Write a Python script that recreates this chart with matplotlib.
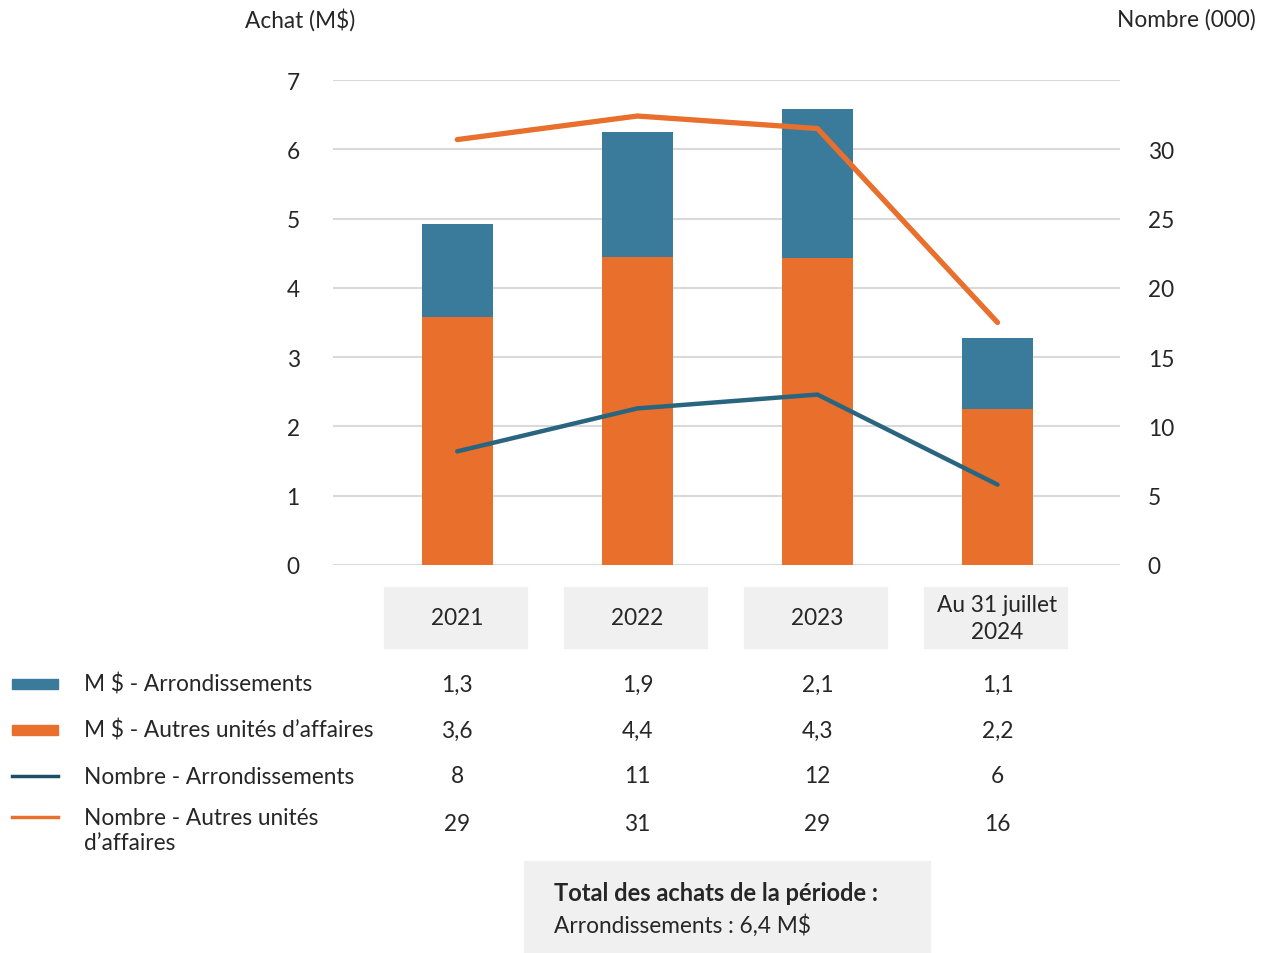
import matplotlib.pyplot as plt
import matplotlib.transforms as mtransforms
from matplotlib.patches import Rectangle
from matplotlib.lines import Line2D

plt.rcParams['font.family'] = ['Lato', 'DejaVu Sans']

# data
periods = ['2021', '2022', '2023', 'Au 31 juillet\n2024']
achat_arr = [1.34, 1.81, 2.15, 1.03]       # M$ - Arrondissements
achat_autres = [3.58, 4.44, 4.43, 2.25]    # M$ - Autres unités d'affaires
nb_arr = [8.2, 11.3, 12.3, 5.8]            # nombre (000)
nb_autres = [30.7, 32.4, 31.5, 17.5]

# values printed in the table
tab_arr = ['1,3', '1,9', '2,1', '1,1']
tab_autres = ['3,6', '4,4', '4,3', '2,2']
tab_nb_arr = ['8', '11', '12', '6']
tab_nb_autres = ['29', '31', '29', '16']

BLUE = '#3a7a9a'
ORANGE = '#e86f2c'
LINE_BLUE = '#2a6580'
LEG_BLUE = '#1e4f66'
GRID = '#d9d9d9'
TXT = '#262626'
BOX = '#f0f0f0'
FS = 16.3

W, H = 1268, 954
fig = plt.figure(figsize=(W / 100, H / 100), dpi=100)
ax = fig.add_axes([333 / W, 1 - 566 / H, (1120 - 333) / W, (566 - 81) / H])
ax2 = ax.twinx()

x = list(range(len(periods)))
ax.bar(x, achat_autres, width=0.395, color=ORANGE, zorder=2)
ax.bar(x, achat_arr, width=0.395, bottom=achat_autres, color=BLUE, zorder=2)

ax2.plot(x, nb_autres, color=ORANGE, lw=3.8, solid_capstyle='round')
ax2.plot(x, nb_arr, color=LINE_BLUE, lw=3.2, solid_capstyle='round')

ax.set_xlim(-0.69, 3.68)
ax.set_ylim(0, 7)
ax2.set_ylim(0, 35)
ax.set_yticks(range(0, 8))
ax2.set_yticks(range(0, 35, 5))
ax.yaxis.grid(True, color=GRID, lw=1.5, zorder=0)
ax.set_axisbelow(True)
ax.set_xticks([])
for a in (ax, ax2):
    for s in a.spines.values():
        s.set_visible(False)
    a.tick_params(length=0, labelsize=FS, labelcolor=TXT)
ax.tick_params(axis='y', pad=24)
ax2.tick_params(axis='y', pad=20)

fig.text(245 / W, 1 - 20 / H, 'Achat (M$)', fontsize=FS, color=TXT, va='center')
fig.text(1256 / W, 1 - 20 / H, 'Nombre (000)', fontsize=FS, color=TXT, va='center', ha='right')

# table below the chart: x in data units, y in figure pixels
tr = mtransforms.blended_transform_factory(ax.transData, fig.dpi_scale_trans)


def fy(py):
    return (H - py) / 100


bw = 143 / 180
for i, p in enumerate(periods):
    fig.patches.append(Rectangle((i - bw / 2 - 0.01, fy(649)), bw, 61 / 100,
                                 transform=tr, color=BOX, zorder=0))
    fig.text(i, fy(619), p, transform=tr, ha='center', va='center',
             fontsize=FS, color=TXT, linespacing=1.3)

rows = [
    ('M $ - Arrondissements', tab_arr, 685, 'bar', BLUE),
    ('M $ - Autres unités d’affaires', tab_autres, 731, 'bar', ORANGE),
    ('Nombre - Arrondissements', tab_nb_arr, 777, 'line', LEG_BLUE),
    ('Nombre - Autres unités\nd’affaires', tab_nb_autres, 825, 'line', ORANGE),
]
for label, vals, py, kind, col in rows:
    if kind == 'bar':
        fig.patches.append(Rectangle((12 / W, 1 - (py + 5) / H), 46 / W, 10 / H,
                                     transform=fig.transFigure, color=col))
    else:
        ly = py - 7 if '\n' in label else py
        fig.lines.append(Line2D([12 / W, 58 / W], [1 - ly / H] * 2,
                                transform=fig.transFigure, color=col, lw=2.5))
    fig.text(84 / W, 1 - (py + 6 if '\n' in label else py) / H, label,
             fontsize=FS, color=TXT, va='center', linespacing=1.2)
    for i, v in enumerate(vals):
        fig.text(i, fy(py), v, transform=tr, ha='center', va='center',
                 fontsize=FS, color=TXT)

fig.patches.append(Rectangle((524 / W, 1 - 953 / H), 406 / W, 91 / H,
                             transform=fig.transFigure, color=BOX, zorder=0))
fig.text(554 / W, 1 - 894 / H, 'Total des achats de la période :',
         fontsize=17, fontweight='bold', color=TXT, va='center')
fig.text(554 / W, 1 - 926 / H, 'Arrondissements : 6,4 M$',
         fontsize=FS, color=TXT, va='center')

fig.savefig('out.png', dpi=100)
